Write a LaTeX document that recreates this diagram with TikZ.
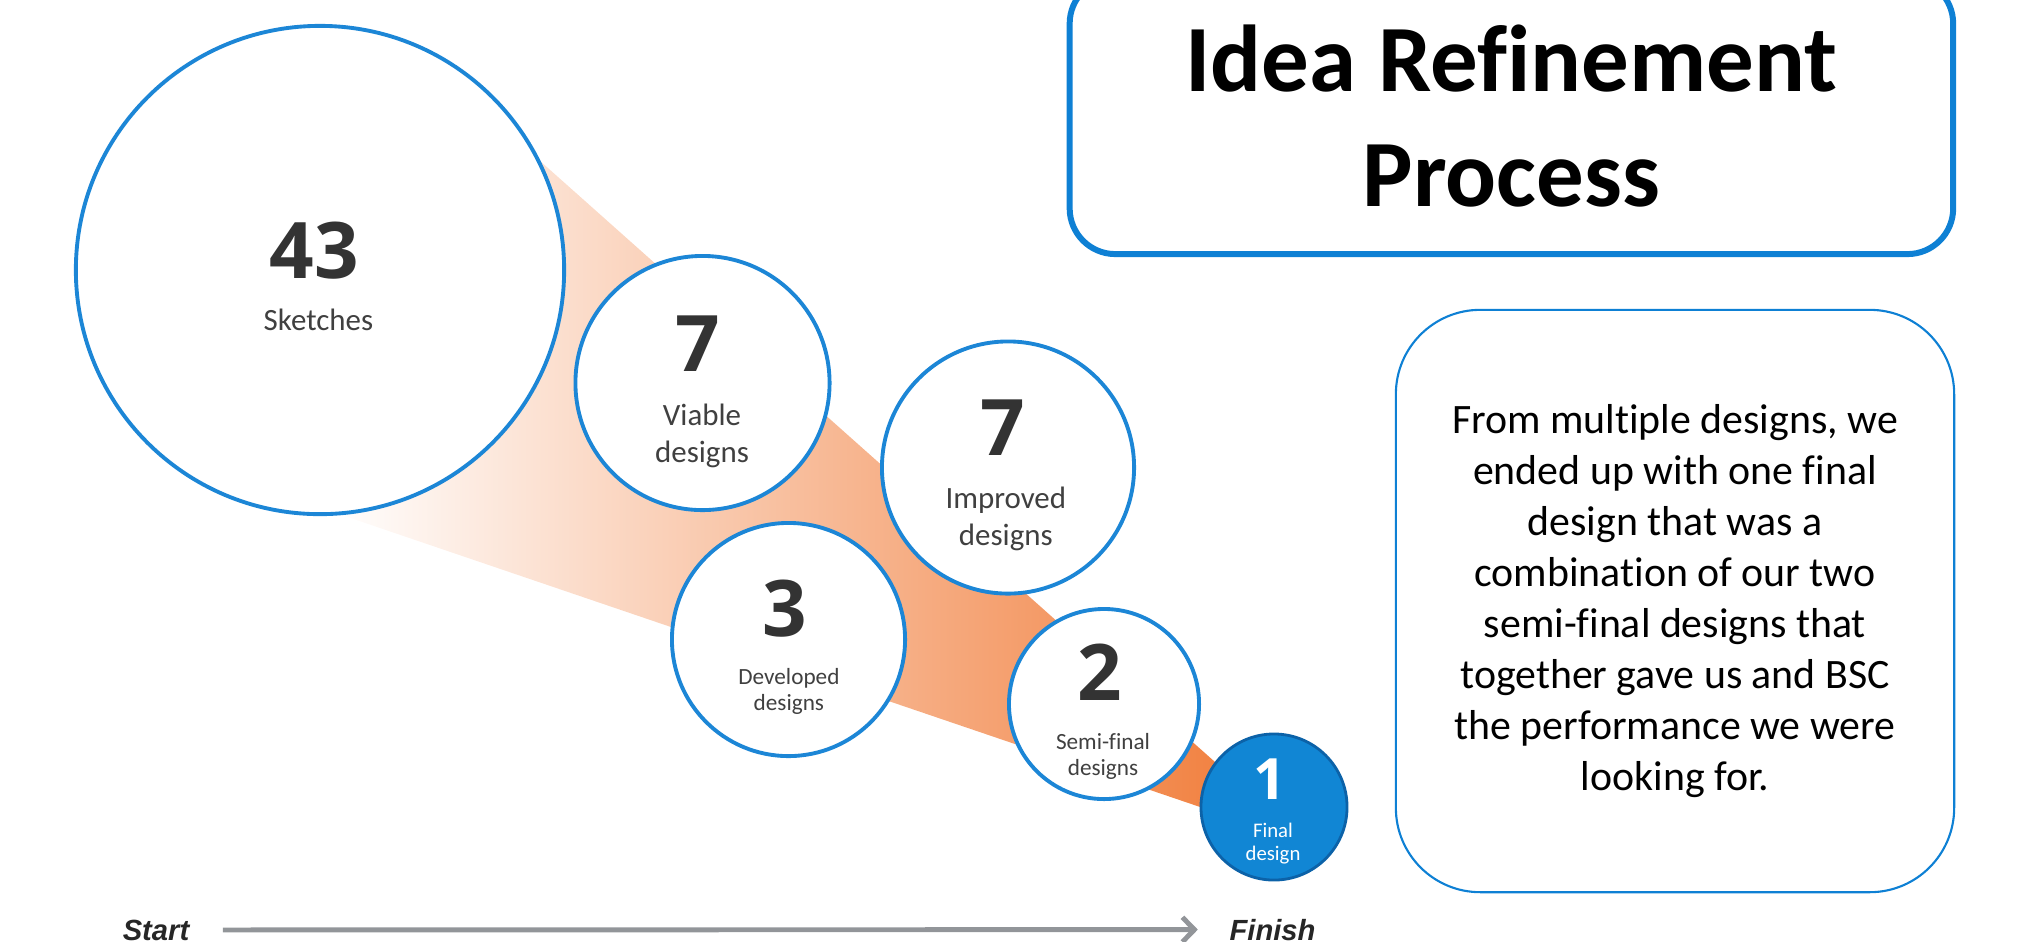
\documentclass[tikz,border=0pt]{standalone}
\usepackage{fontspec}
\setmainfont{Carlito}[Ligatures=NoCommon]
\newfontfamily\numfont{Open Sans}
\newfontfamily\axisfont{Liberation Sans}
\usepackage{tikz}
\usetikzlibrary{calc,arrows.meta}
\definecolor{ringBlue}{RGB}{28,134,214}
\definecolor{boxBlue}{RGB}{14,128,212}
\definecolor{finalBlue}{RGB}{17,134,212}
\definecolor{finalEdge}{RGB}{12,98,168}
\definecolor{coneOrange}{RGB}{240,118,48}
\definecolor{numGray}{RGB}{51,51,51}
\definecolor{labelGray}{RGB}{64,64,64}
\definecolor{axisGray}{RGB}{146,149,153}
\definecolor{axisText}{RGB}{38,38,38}
\tikzset{
  bubble/.style={
    circle,
    draw=ringBlue,
    line width=1.1pt,
    fill=white,
    inner sep=0pt
  },
  finalBubble/.style={
    circle,
    draw=finalEdge,
    line width=0.8pt,
    fill=finalBlue,
    inner sep=0pt
  },
  bigNum/.style={
    font=\numfont\bfseries\fontsize{22.2}{26}\selectfont,
    text=numGray,
    inner sep=0pt,
    anchor=base
  },
  stepLabel/.style={
    font=\fontsize{8.8}{10.6}\selectfont,
    text=labelGray,
    align=center,
    inner sep=0pt,
    anchor=base
  },
  smallLabel/.style={
    font=\fontsize{6.6}{7.5}\selectfont,
    text=labelGray,
    align=center,
    inner sep=0pt,
    anchor=base
  },
  titleBox/.style={
    rectangle,
    rounded corners=13pt,
    draw=boxBlue,
    line width=1.7pt,
    fill=white,
    minimum width=8.83cm,
    minimum height=2.76cm,
    align=center,
    font=\bfseries\fontsize{27}{32.9}\selectfont
  },
  noteBox/.style={
    rectangle,
    rounded corners=24pt,
    draw=boxBlue,
    line width=0.6pt,
    minimum width=5.58cm,
    minimum height=5.82cm,
    align=center,
    font=\fontsize{11.9}{14.5}\selectfont
  },
  axisLabel/.style={
    font=\axisfont\bfseries\itshape\fontsize{8.3}{10}\selectfont,
    text=axisText,
    inner sep=0pt,
    anchor=base
  },
  axisArrow/.style={
    draw=axisGray,
    line width=1.4pt,
    -{Straight Barb[length=3.4pt,width=7pt]}
  }
}
\begin{document}
\begin{tikzpicture}[x=0.01cm, y=-0.01cm]
  \useasboundingbox (0,0) rectangle (2019,941);

  % funnel behind the bubbles
  \coordinate (coneTop) at (430,63);
  \coordinate (coneBottom) at (330,511);
  \coordinate (coneTip) at (1306,843);
  \shade[left color=white, right color=coneOrange] (coneTop) -- (coneTip) -- (coneBottom) -- cycle;

  % bubbles
  \node[bubble, minimum size=4.88cm] (sketches) at (320,270) {};
  \node[bubble, minimum size=2.54cm] (viable) at (702.5,383) {};
  \node[bubble, minimum size=2.52cm] (improved) at (1008,467.5) {};
  \node[bubble, minimum size=2.33cm] (developed) at (788.5,639.5) {};
  \node[bubble, minimum size=1.90cm] (semifinal) at (1104,704) {};
  \node[finalBubble, minimum size=1.46cm] (final) at (1274,807) {};

  % counts and labels (base = last line)
  \node[bigNum] (sketchesNum) at (314,278) {43};
  \node[stepLabel] (sketchesText) at (318.4,330.7) {Sketches};
  \node[bigNum] (viableNum) at (698,371) {7};
  \node[stepLabel] (viableText) at (702,462.3) {Viable\\designs};
  \node[bigNum] (improvedNum) at (1003,455) {7};
  \node[stepLabel] (improvedText) at (1005.8,545.7) {Improved\\designs};
  \node[bigNum] (developedNum) at (785,636.7) {3};
  \node[smallLabel] (developedText) at (788.9,710.5) {Developed\\designs};
  \node[bigNum] (semifinalNum) at (1100,700) {2};
  \node[smallLabel] (semifinalText) at (1103,775.7) {Semi-final\\designs};
  \node[bigNum, text=white, font=\numfont\bfseries\fontsize{16.2}{19}\selectfont] (finalNum) at (1269.7,799) {1};
  \node[smallLabel, text=white, font=\fontsize{5.9}{6.7}\selectfont] (finalText) at (1273,860.7) {Final\\design};

  % title and note
  \node[titleBox] (title) at (1511.4,116) {Idea Refinement\\Process};
  \node[noteBox] (note) at (1675,601) {From multiple designs, we\\ended up with one final\\design that was a\\combination of our two\\semi-final designs that\\together gave us and BSC\\the performance we were\\looking for.};

  % time axis
  \node[axisLabel] (start) at (156,940) {Start};
  \node[axisLabel] (finish) at (1272.5,940) {Finish};
  \draw[axisArrow, shorten <=0.33cm, shorten >=0.31cm] (start.east) -- (finish.west);
\end{tikzpicture}
\end{document}
